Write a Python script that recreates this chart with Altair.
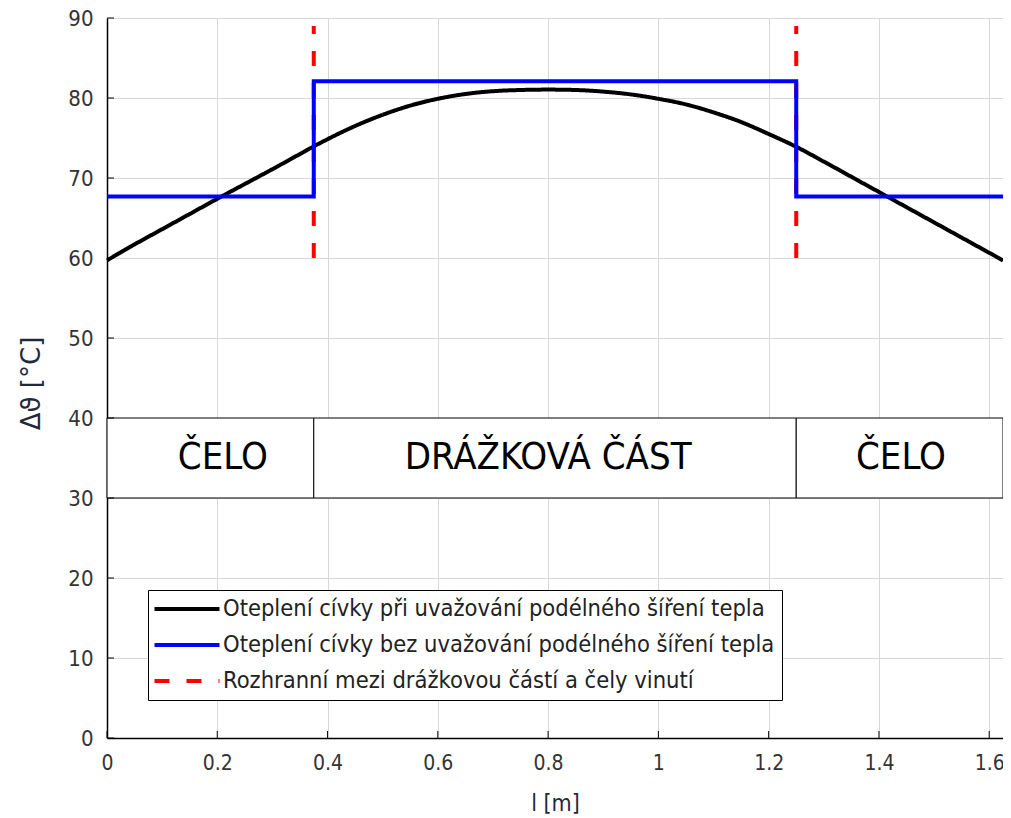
import altair as alt
import pandas as pd

# ---- data ----
l_curve = [0, 0.05, 0.1, 0.15, 0.2, 0.25, 0.3, 0.35, 0.375, 0.4, 0.45, 0.5, 0.55, 0.6,
           0.65, 0.7, 0.75, 0.8, 0.85, 0.9, 0.95, 1.0, 1.05, 1.1, 1.15, 1.2, 1.25,
           1.3, 1.35, 1.4, 1.45, 1.5, 1.55, 1.6, 1.625]
t_curve = [59.7, 61.7, 63.6, 65.5, 67.4, 69.25, 71.1, 73.0, 73.95, 74.85, 76.5, 77.9, 79.05, 79.9,
           80.5, 80.85, 81.0, 81.05, 81.0, 80.8, 80.45, 79.9, 79.2, 78.2, 77.0, 75.5, 73.9,
           72.05, 70.15, 68.25, 66.35, 64.45, 62.55, 60.65, 59.7]

step_l = [0, 0.375, 1.25, 1.625]
step_t = [67.7, 82.1, 67.7, 67.7]

iface_l = [0.375, 1.25]
iface_t = [60, 89]

sec_start = [0, 0.375, 1.25]
sec_end = [0.375, 1.25, 1.625]
sec_low, sec_high = 30, 40
sec_label = ["ČELO", "DRÁŽKOVÁ ČÁST", "ČELO"]
sec_label_l = [0.21, 0.80, 1.44]

series = [
    "Oteplení cívky při uvažování podélného šíření tepla",
    "Oteplení cívky bez uvažování podélného šíření tepla",
    "Rozhranní mezi drážkovou částí a čely vinutí",
]
x_ticks = [0, 0.2, 0.4, 0.6, 0.8, 1.0, 1.2, 1.4, 1.6]
y_ticks = [0, 10, 20, 30, 40, 50, 60, 70, 80, 90]

# ---- tables ----
df_curve = pd.DataFrame({"l": l_curve, "t": t_curve, "series": series[0]})
df_step = pd.DataFrame({"l": step_l, "t": step_t, "series": series[1]})
rows = []
for i, xv in enumerate(iface_l):
    for j, tv in enumerate(iface_t):
        rows.append({"l": xv, "t": tv, "series": series[2], "id": i, "ord": j})
df_iface = pd.DataFrame(rows)
df_sec = pd.DataFrame({"l": sec_start, "l2": sec_end, "t": sec_low, "t2": sec_high})
df_lab = pd.DataFrame({"l": sec_label_l, "label": sec_label, "t": (sec_low + sec_high) / 2})
df_xt = pd.DataFrame({"l": x_ticks})
df_yt = pd.DataFrame({"t": y_ticks})

FONT = "DejaVu Sans Condensed, Liberation Sans Narrow, Arial, sans-serif"
TFONT = "DejaVu Sans, Arial, sans-serif"
TITLE_COLOR = "#1f2a3c"

x_axis = alt.Axis(values=x_ticks, format="~g", title="l [m]", labelFont=FONT, labelFontSize=21,
                  labelColor="#333333", labelPadding=14, ticks=False, domainColor="#000000",
                  domainWidth=1.5, gridColor="#d8d8d8", gridWidth=1, titleFont=FONT,
                  titleFontSize=23, titleFontWeight="normal", titleColor=TITLE_COLOR,
                  titleBaseline="middle", titleY=65, labelFlush=False)
y_axis = alt.Axis(values=y_ticks, title="Δϑ [°C]", labelFont=FONT, labelFontSize=22,
                  labelColor="#333333", labelPadding=14, ticks=False, domainColor="#000000",
                  domainWidth=1.5, gridColor="#d8d8d8", gridWidth=1, titleFont=TFONT,
                  titleFontSize=26, titleFontWeight="normal", titleColor=TITLE_COLOR,
                  titleBaseline="middle", titleX=-76, titleY=365, labelFlush=False)

xs = alt.Scale(domain=[0, 1.625], nice=False, zero=False)
ys = alt.Scale(domain=[0, 90], nice=False, zero=False)


def X(field="l:Q"):
    return alt.X(field, scale=xs, axis=x_axis)


def Y(field="t:Q"):
    return alt.Y(field, scale=ys, axis=y_axis)


legend = alt.Legend(title=None, orient="none", legendX=41, legendY=572,
                    symbolType="M-3.25,0H3.25", symbolSize=400, symbolStrokeWidth=4,
                    symbolOffset=20, labelOffset=24,
                    labelFont=FONT, labelFontSize=23.5, labelColor="#222222", labelLimit=900,
                    strokeColor="#000000", fillColor="#ffffff", padding=7, rowPadding=12)

color = alt.Color("series:N", scale=alt.Scale(domain=series, range=["#000000", "#0000ff", "#ff0000"]),
                  legend=legend)
dash = alt.StrokeDash("series:N", scale=alt.Scale(domain=series, range=[[1, 0], [1, 0], [15, 17]]),
                      legend=legend)

sections = alt.Chart(df_sec).mark_rect(fill="#ffffff", stroke="#000000", strokeWidth=1).encode(
    x=X(), x2="l2:Q", y=Y(), y2="t2:Q")
sec_text = alt.Chart(df_lab).mark_text(font=FONT, fontSize=38, color="#000000",
                                       baseline="middle", align="center").encode(
    x=X(), y=Y(), text="label:N")

iface = alt.Chart(df_iface).mark_line(strokeWidth=4).encode(
    x=X(), y=Y(), color=color, strokeDash=dash, detail="id:N", order="ord:Q")
curve = alt.Chart(df_curve).mark_line(strokeWidth=4, interpolate="monotone").encode(
    x=X(), y=Y(), color=color, strokeDash=dash)
step = alt.Chart(df_step).mark_line(strokeWidth=4, interpolate="step-after").encode(
    x=X(), y=Y(), color=color, strokeDash=dash)

xt = alt.Chart(df_xt).mark_rule(color="#000000", strokeWidth=1).encode(
    x=X(), y=alt.value(720), y2=alt.value(713))
yt = alt.Chart(df_yt).mark_rule(color="#000000", strokeWidth=1).encode(
    y=Y(), x=alt.value(0), x2=alt.value(7))

chart = alt.layer(sections, sec_text, iface, curve, step, xt, yt).properties(
    width=896, height=720,
    padding={"left": 99, "top": 10, "right": 0, "bottom": 80},
    autosize=alt.AutoSizeParams(type="none"),
).configure_view(stroke=None).configure(background="#ffffff")

chart.save("out.html", embed_options={"renderer": "svg", "actions": False})
